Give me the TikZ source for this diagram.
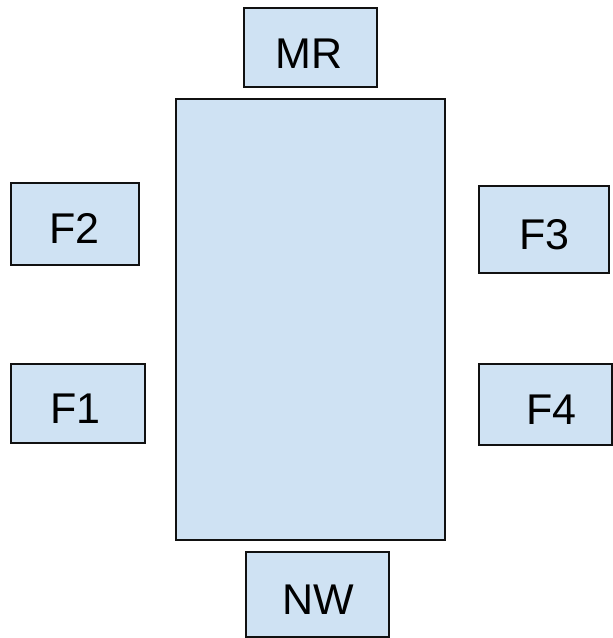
\documentclass[tikz,border=0pt]{standalone}
\usepackage{fontspec}
\setmainfont{Liberation Sans}
\definecolor{boxfill}{HTML}{CFE2F3}
\definecolor{boxline}{HTML}{111111}
\begin{document}
\begin{tikzpicture}[x=1pt,y=-1pt,
  box/.style={draw=boxline,fill=boxfill,line width=1.3pt,rectangle,inner sep=0pt,outer sep=0pt},
  lbl/.style={font=\fontsize{43}{43}\selectfont,text=black,inner sep=0pt}]
\useasboundingbox (0,0) rectangle (613,638);
\node[box,minimum width=269pt,minimum height=441pt] (table) at (310.5,319.5) {};
\node[box,minimum width=133pt,minimum height=79pt,
  label={[lbl,xshift=-1.5pt,yshift=-6.5pt]center:MR}] (mr) at (310.5,47.5) {};
\node[box,minimum width=128pt,minimum height=82pt,
  label={[lbl,xshift=-0.5pt,yshift=-4.5pt]center:F2}] (f2) at (75,224) {};
\node[box,minimum width=130pt,minimum height=87pt,
  label={[lbl,xshift=0.5pt,yshift=-5pt]center:F3}] (f3) at (544,229.5) {};
\node[box,minimum width=134pt,minimum height=79pt,
  label={[lbl,xshift=-2.5pt,yshift=-5pt]center:F1}] (f1) at (78,403.5) {};
\node[box,minimum width=133pt,minimum height=81pt,
  label={[lbl,xshift=6pt,yshift=-5.5pt]center:F4}] (f4) at (545.5,404.5) {};
\node[box,minimum width=143pt,minimum height=85pt,
  label={[lbl,xshift=1pt,yshift=-5.5pt]center:NW}] (nw) at (317.5,594.5) {};
\end{tikzpicture}
\end{document}
